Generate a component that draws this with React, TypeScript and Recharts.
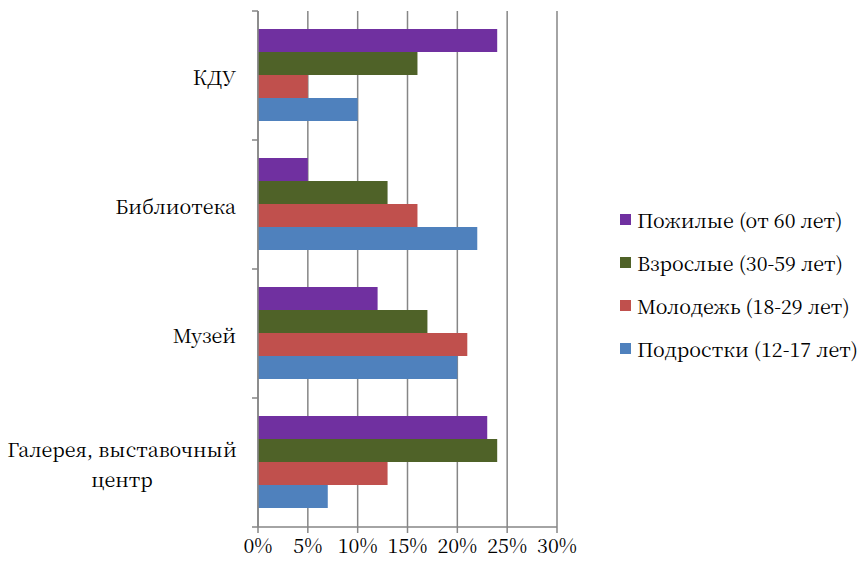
import { BarChart, Bar, XAxis, YAxis, CartesianGrid } from "recharts";

const categories = ["КДУ", "Библиотека", "Музей", "Галерея, выставочный центр"];
const seniors = [24, 5, 12, 23];
const adults = [16, 13, 17, 24];
const youth = [5, 16, 21, 13];
const teens = [10, 22, 20, 7];
const xTicks = [0, 5, 10, 15, 20, 25, 30];

const series = [
  { key: "seniors", name: "Пожилые (от 60 лет)", color: "#7030A0", values: seniors },
  { key: "adults", name: "Взрослые (30-59 лет)", color: "#4F6228", values: adults },
  { key: "youth", name: "Молодежь (18-29 лет)", color: "#C0504D", values: youth },
  { key: "teens", name: "Подростки (12-17 лет)", color: "#4F81BD", values: teens },
];

const data = categories.map((name, i) => {
  const row: Record<string, string | number> = { name };
  series.forEach((s) => (row[s.key] = s.values[i]));
  return row;
});

const FONT = "'Noto Serif CJK SC', serif";
const FS = 19.7;
const AXIS = "#868686";
const PLOT_TOP = 11;
const PLOT_H = 516;
const BAND = PLOT_H / categories.length;

function CategoryTick(props: any) {
  const { x, y, payload, index } = props;
  const label: string = payload.value;
  const cut = label.lastIndexOf(" ");
  const lines = label.length > 14 && cut > 0 ? [label.slice(0, cut), label.slice(cut + 1)] : [label];
  const lh = 30;
  const startY = y - ((lines.length - 1) * lh) / 2;
  return (
    <g>
      <line x1={x - 6} x2={x} y1={y - BAND / 2} y2={y - BAND / 2} stroke={AXIS} strokeWidth={1.5} />
      {index === categories.length - 1 && (
        <line x1={x - 6} x2={x} y1={y + BAND / 2} y2={y + BAND / 2} stroke={AXIS} strokeWidth={1.5} />
      )}
      <text y={startY} textAnchor="middle" dominantBaseline="central" style={{ fontSize: FS, fontFamily: FONT, fill: "#000" }}>
        {lines.map((l, i) => (
          <tspan key={i} x={lines.length > 1 ? x - 136 : x - 22} textAnchor={lines.length > 1 ? "middle" : "end"} dy={i === 0 ? 0 : lh}>
            {l}
          </tspan>
        ))}
      </text>
    </g>
  );
}

export default function App() {
  return (
    <div style={{ position: "absolute", left: 0, top: 0, width: 868, height: 566, background: "#fff" }}>
      <BarChart
        width={868}
        height={566}
        data={data}
        layout="vertical"
        margin={{ top: PLOT_TOP, right: 311, bottom: 9, left: 0 }}
        barCategoryGap={18}
        barGap={0}
      >
        <CartesianGrid horizontal={false} stroke={AXIS} strokeWidth={1.5} />
        <XAxis
          type="number"
          domain={[0, 30]}
          ticks={xTicks}
          interval={0}
          height={30}
          tickFormatter={(v) => `${v}%`}
          axisLine={{ stroke: AXIS, strokeWidth: 1.5 }}
          tickLine={{ stroke: AXIS, strokeWidth: 1.5 }}
          tickSize={6}
          tickMargin={6}
          tick={{ fill: "#000", style: { fontSize: FS, fontFamily: FONT } }}
        />
        <YAxis
          type="category"
          dataKey="name"
          width={258}
          axisLine={{ stroke: AXIS, strokeWidth: 1.5 }}
          tickLine={false}
          tickSize={0}
          tickMargin={0}
          interval={0}
          tick={<CategoryTick />}
        />
        {series.map((s) => (
          <Bar key={s.key} dataKey={s.key} name={s.name} fill={s.color} isAnimationActive={false} />
        ))}
      </BarChart>
      <div style={{ position: "absolute", left: 620, top: 198, fontFamily: FONT, fontSize: FS, color: "#000", lineHeight: "24px" }}>
        {series.map((s) => (
          <div key={s.key} style={{ display: "flex", alignItems: "center", height: 43, whiteSpace: "nowrap" }}>
            <span style={{ display: "inline-block", width: 11, height: 11, background: s.color, marginRight: 6 }} />
            {s.name}
          </div>
        ))}
      </div>
    </div>
  );
}
